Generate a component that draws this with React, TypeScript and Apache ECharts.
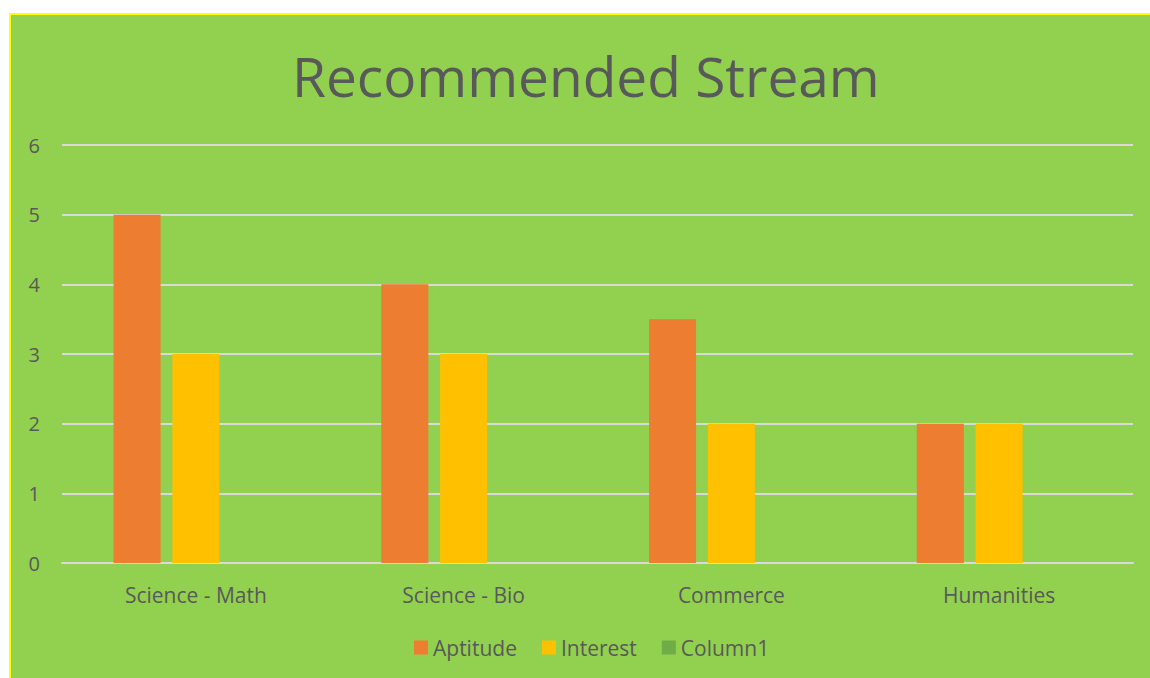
import React, { useEffect, useRef } from "react";
import * as echarts from "echarts";

const categories = ["Science - Math", "Science - Bio", "Commerce", "Humanities"];
const aptitude = [5, 4, 3.5, 2];
const interest = [3, 3, 2, 2];
const column1: (number | null)[] = [null, null, null, null];
const yTicks = [0, 1, 2, 3, 4, 5, 6];

const FONT = "'Open Sans', 'Noto Sans', sans-serif";
const TEXT = "#595959";

export default function App() {
  const ref = useRef<HTMLDivElement>(null);
  useEffect(() => {
    if (!ref.current) return;
    const chart = echarts.init(ref.current, undefined, { renderer: "svg" });
    chart.setOption({
      animation: false,
      backgroundColor: "#92D050",
      textStyle: { fontFamily: FONT },
      title: {
        text: "Recommended Stream",
        left: 276,
        top: 28,
        textStyle: { fontFamily: FONT, fontSize: 55, fontWeight: "normal", color: TEXT },
      },
      legend: {
        bottom: 15,
        left: 398,
        itemWidth: 14,
        itemHeight: 14,
        itemGap: 25,
        icon: "rect",
        textStyle: { fontFamily: FONT, fontSize: 21, color: TEXT },
        data: ["Aptitude", "Interest", "Column1"],
      },
      grid: { left: 51, right: 17, top: 130, bottom: 115 },
      xAxis: {
        type: "category",
        data: categories,
        axisLine: { show: true, lineStyle: { color: "#D9D9D9", width: 2 } },
        axisTick: { show: false },
        axisLabel: { color: TEXT, fontSize: 21, margin: 21, fontFamily: FONT },
      },
      yAxis: {
        type: "value",
        min: yTicks[0],
        max: yTicks[yTicks.length - 1],
        interval: 1,
        axisLine: { show: false },
        axisTick: { show: false },
        axisLabel: { color: TEXT, fontSize: 20, margin: 22, fontFamily: FONT },
        splitLine: { lineStyle: { color: "#D9D9D9", width: 2 } },
      },
      series: [
        { name: "Aptitude", type: "bar", data: aptitude, itemStyle: { color: "#ED7D31" }, barGap: "25%", barCategoryGap: "38.5%" },
        { name: "Interest", type: "bar", data: interest, itemStyle: { color: "#FFC000" } },
        { name: "Column1", type: "bar", data: column1, itemStyle: { color: "#70AD47" } },
      ],
    });
    return () => chart.dispose();
  }, []);
  return (
    <div
      style={{
        position: "fixed",
        left: 9,
        top: 13,
        width: 1141,
        height: 665,
        borderTop: "2px solid #FFFF00",
        borderLeft: "2px solid #FFFF00",
        background: "#92D050",
        boxSizing: "border-box",
      }}
    >
      <div ref={ref} style={{ width: 1139, height: 663 }} />
    </div>
  );
}
